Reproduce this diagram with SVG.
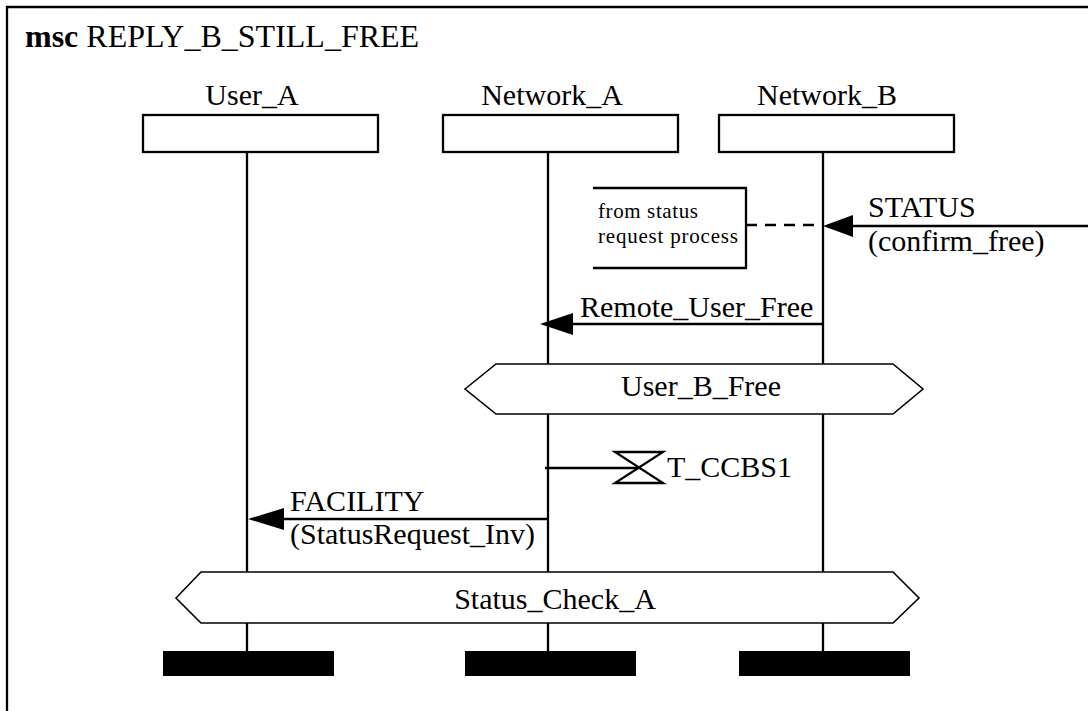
<svg xmlns="http://www.w3.org/2000/svg" width="1088" height="711" viewBox="0 0 1088 711">
<defs>
<style>
text{font-family:"Liberation Serif","Times New Roman",serif;fill:#000}
.lbl{font-size:30px}
.small{font-size:21px}
.ttl{font-size:32px}
.ln{stroke:#000;stroke-width:2.3;fill:none}
.box{stroke:#000;stroke-width:2.3;fill:#fff}
.cond{stroke:#000;stroke-width:1.6;fill:#fff}
.bar{fill:#000}
.arrowhead{fill:#000}
</style>
</defs>
<rect width="1088" height="711" fill="#fff"/>
<g id="frame">
<path class="ln" d="M7,711 V7 H1088"/>
<text class="ttl" x="25" y="47"><tspan font-weight="bold">msc</tspan> REPLY_B_STILL_FREE</text>
</g>
<g id="User_A">
<text class="lbl" x="252" y="105" text-anchor="middle">User_A</text>
<rect class="box" x="143" y="115" width="235" height="37"/>
<path class="ln" d="M247,152 V651"/>
<rect class="bar" x="163" y="651" width="171" height="25"/>
</g>
<g id="Network_A">
<text class="lbl" x="552" y="105" text-anchor="middle">Network_A</text>
<rect class="box" x="443" y="115" width="235" height="37"/>
<path class="ln" d="M548,152 V364 M548,414 V651"/>
<rect class="bar" x="465" y="651" width="171" height="25"/>
</g>
<g id="Network_B">
<text class="lbl" x="827" y="105" text-anchor="middle">Network_B</text>
<rect class="box" x="719" y="115" width="235" height="37"/>
<path class="ln" d="M823,152 V364 M823,414 V651"/>
<rect class="bar" x="739" y="651" width="171" height="25"/>
</g>
<g id="comment">
<path class="ln" d="M593,188 H746 V268 H593"/>
<text class="small" x="598" y="218" textLength="100">from status</text>
<text class="small" x="598" y="243" textLength="140">request process</text>
</g>
<g id="User_B_Free">
<polygon class="cond" points="465,389 496,364 893,364 923,389 893,414 496,414"/>
<text class="lbl" x="701" y="396" text-anchor="middle">User_B_Free</text>
</g>
<g id="timer">
<path class="ln" d="M545,468 H639"/>
<path class="ln" d="M615,452 H663 L615,483 H663 Z"/>
<text class="lbl" x="667" y="477">T_CCBS1</text>
</g>
<g id="Status_Check_A">
<polygon class="cond" points="176,598 201,572 893,572 919,598 893,623 201,623"/>
<text class="lbl" x="555" y="609" text-anchor="middle">Status_Check_A</text>
</g>
<g id="connectors">
<path class="ln" d="M1088,226 H852"/>
<polygon class="arrowhead" points="823,226 853,215 853,237"/>
<path class="ln" d="M746,225 H823" stroke-dasharray="11,8"/>
<text class="lbl" x="868" y="217">STATUS</text>
<text class="lbl" x="868" y="251">(confirm_free)</text>
<path class="ln" d="M823,324 H570"/>
<polygon class="arrowhead" points="540,324 573,313 573,335"/>
<text class="lbl" x="580" y="317">Remote_User_Free</text>
<path class="ln" d="M548,519 H282"/>
<polygon class="arrowhead" points="248,519 284,508 284,530"/>
<text class="lbl" x="290" y="511">FACILITY</text>
<text class="lbl" x="290" y="544">(StatusRequest_Inv)</text>
</g>
</svg>
